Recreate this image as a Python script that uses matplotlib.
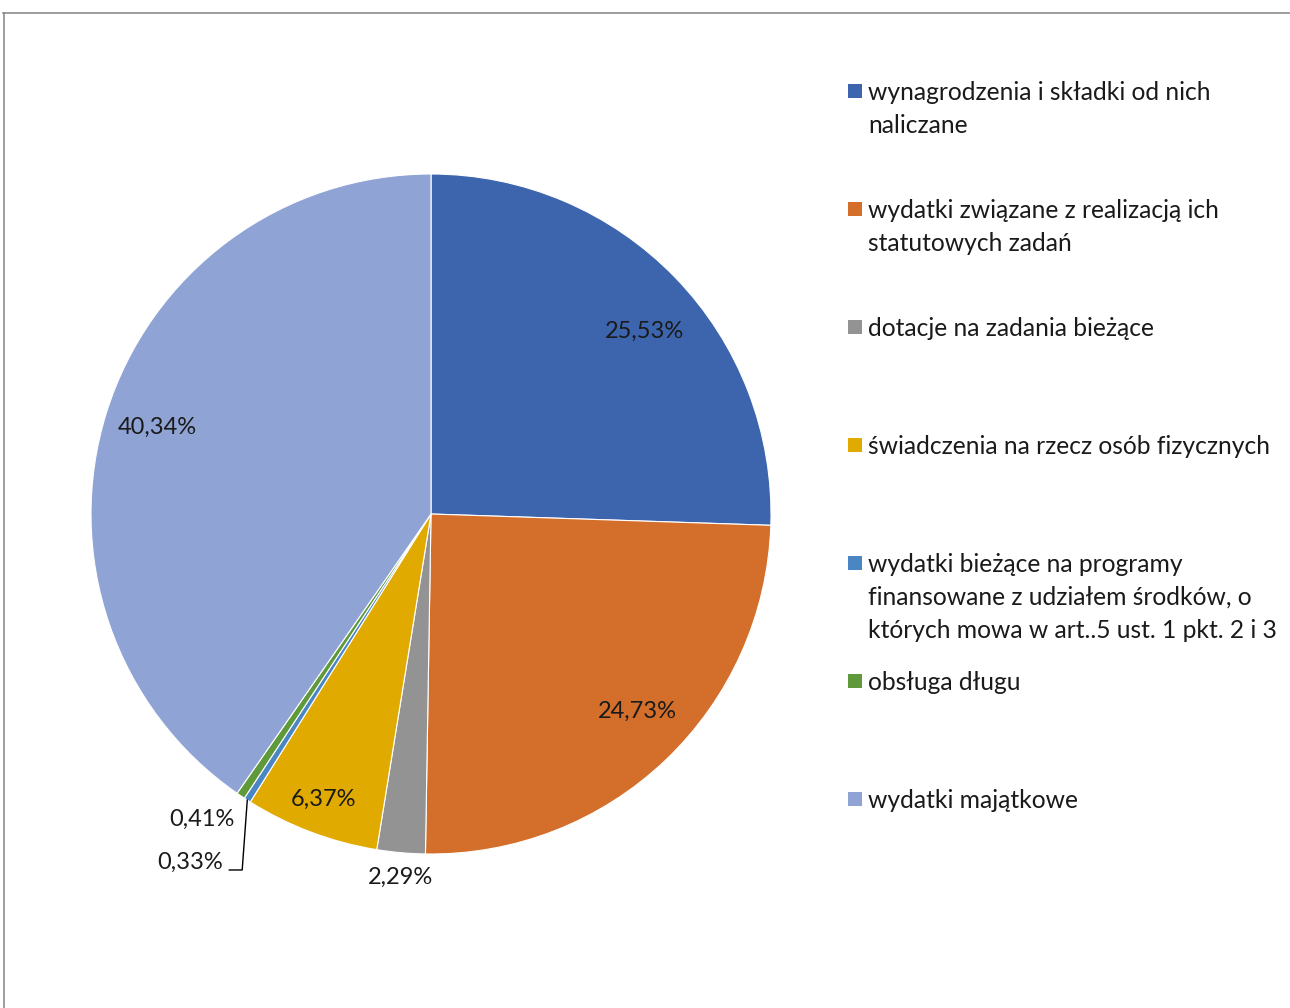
import matplotlib.pyplot as plt
import numpy as np

# --- Data ---
categories = [
    "wynagrodzenia i składki od nich\nnaliczane",
    "wydatki związane z realizacją ich\nstatutowych zadań",
    "dotacje na zadania bieżące",
    "świadczenia na rzecz osób fizycznych",
    "wydatki bieżące na programy\nfinansowane z udziałem środków, o\nktórych mowa w art..5 ust. 1 pkt. 2 i 3",
    "obsługa długu",
    "wydatki majątkowe",
]
shares = [25.53, 24.73, 2.29, 6.37, 0.33, 0.41, 40.34]
value_labels = ["25,53%", "24,73%", "2,29%", "6,37%", "0,33%", "0,41%", "40,34%"]
colors = ['#3D65AD', '#D46F2B', '#939393', '#E1AA00', '#4A86C4', '#5F9A3A', '#8FA3D4']

plt.rcParams['font.family'] = ['Lato', 'DejaVu Sans']

W, H = 1290, 1008
fig = plt.figure(figsize=(W / 100, H / 100), dpi=100)

# outer chart border (top and left visible)
fig.add_artist(plt.Line2D([3 / W, 1], [1 - 13 / H, 1 - 13 / H], color='#8c8c8c', lw=1.2))
fig.add_artist(plt.Line2D([3.5 / W, 3.5 / W], [0, 1 - 13 / H], color='#8c8c8c', lw=1.2))

# pie axes: centre (431, 514), radius 340 px
cx, cy, r = 431, 514, 340
ax = fig.add_axes([(cx - r) / W, (H - cy - r) / H, 2 * r / W, 2 * r / H])
wedges, _ = ax.pie(shares, colors=colors, startangle=90, counterclock=False,
                   radius=1.0, wedgeprops=dict(edgecolor='white', linewidth=0.8))
ax.set_xlim(-1, 1)
ax.set_ylim(-1, 1)
ax.set_aspect('equal')
ax.axis('off')

# data labels (positions in pie units)
label_pos = [(0.629, 0.538), (0.606, -0.579), (-0.091, -1.068), (-0.315, -0.838),
             (-0.709, -1.024), (-0.674, -0.897), (-0.806, 0.256)]
for (x, y), txt in zip(label_pos, value_labels):
    ax.text(x, y, txt, ha='center', va='center', fontsize=17, color='#1a1a1a', clip_on=False)

# leader line for the 0.33% slice
w = wedges[4]
mid = np.deg2rad((w.theta1 + w.theta2) / 2)
x0, y0 = np.cos(mid), np.sin(mid)
ax.plot([x0, x0 - 0.015, x0 - 0.053], [y0, -1.047, -1.047], color='black', lw=1, clip_on=False)

# legend (manual, Excel style)
legend_y = [91, 209, 327, 445, 563, 681, 799]
for lab, col, yy in zip(categories, colors, legend_y):
    fig.add_artist(plt.Rectangle((848 / W, 1 - (yy + 7) / H), 14 / W, 14 / H,
                                 facecolor=col, edgecolor='none', transform=fig.transFigure))
    for i, line in enumerate(lab.split('\n')):
        fig.text(868 / W, 1 - (yy + 9 + 33 * i) / H, line, ha='left', va='baseline',
                 fontsize=17.7, color='#1a1a1a')

fig.savefig('out.png', dpi=100)
